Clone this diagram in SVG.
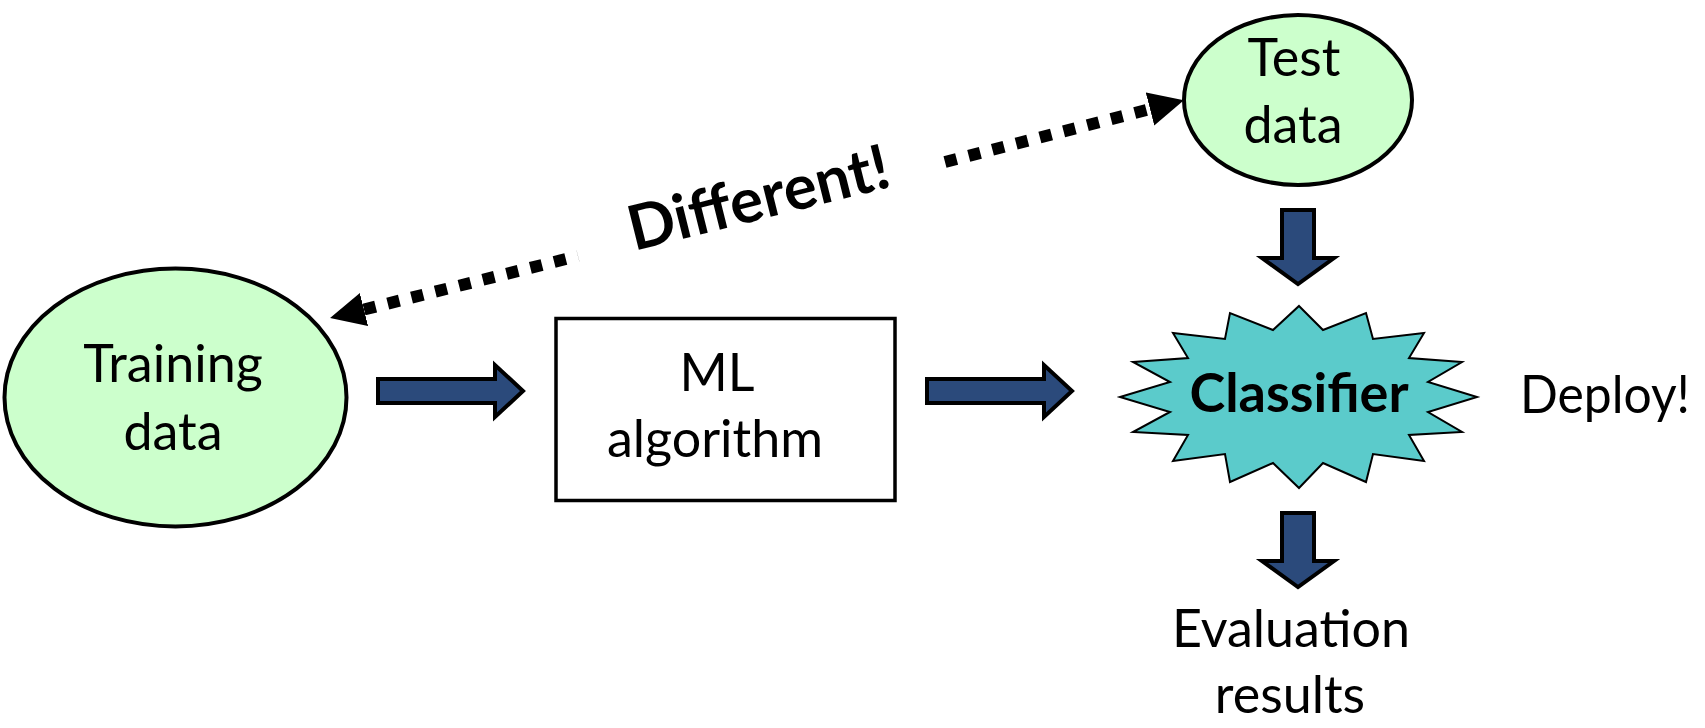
<svg xmlns="http://www.w3.org/2000/svg" width="1705" height="728" viewBox="0 0 1705 728">
  <style>
    .lbl { font-family: Lato, "Liberation Sans", sans-serif; font-size: 52px; fill: #000; text-anchor: middle; }
    .bold { font-weight: bold; }
    .data { fill: #CCFFCC; stroke: #000; stroke-width: 4; }
    .blk { fill: #2B4A7B; stroke: #000; stroke-width: 4; stroke-linejoin: miter; }
    .dots { fill: none; stroke: #000; stroke-width: 12; stroke-dasharray: 12 12.5; }
  </style>
  <defs>
    <marker id="head" markerUnits="userSpaceOnUse" markerWidth="36" markerHeight="36" refX="0" refY="17" orient="auto-start-reverse" viewBox="0 0 36 34">
      <path d="M0,0 L35,17 L0,34 Z" fill="#000"/>
    </marker>
  </defs>
  <rect width="1705" height="728" fill="#fff"/>

  <g id="training">
    <ellipse class="data" cx="175.5" cy="397.5" rx="171" ry="129"/>
    <text class="lbl" x="173" y="382">Training</text>
    <text class="lbl" x="173" y="450">data</text>
  </g>

  <g id="ml">
    <rect x="556" y="318.5" width="339" height="182" fill="#fff" stroke="#000" stroke-width="3.5"/>
    <text class="lbl" x="717" y="391">ML</text>
    <text class="lbl" x="715" y="457">algorithm</text>
  </g>

  <g id="test">
    <ellipse class="data" cx="1298" cy="100" rx="114" ry="85"/>
    <text class="lbl" x="1294" y="76">Test</text>
    <text class="lbl" x="1293" y="143">data</text>
  </g>

  <g id="classifier">
    <polygon fill="#5BCBCB" stroke="#000" stroke-width="2" stroke-linejoin="miter" points="1299,306 1323,330 1366,313 1373,339 1424,333 1409,358 1462,362 1428,382 1477,397 1428,412 1462,432 1409,435 1424,461 1373,454 1366,482 1323,463 1299,488 1273,463 1230,482 1225,454 1173,461 1188,435 1133,432 1170,412 1120,397 1170,382 1133,362 1188,358 1173,333 1225,339 1230,313 1273,330"/>
    <text class="lbl bold" x="1299" y="412" style="font-size:54px">Classifier</text>
  </g>

  <g id="deploy">
    <text class="lbl" x="1520" y="413" textLength="170" lengthAdjust="spacingAndGlyphs" style="text-anchor:start">Deploy!</text>
  </g>

  <g id="evaluation">
    <text class="lbl" x="1291" y="647">Evaluation</text>
    <text class="lbl" x="1290" y="713">results</text>
  </g>

  <g id="different">
    <text class="lbl bold" transform="translate(634,251) rotate(-14)" style="text-anchor:start;font-size:62px">Different!</text>
  </g>

  <g id="connectors">
    <path class="blk" d="M378,379 H495 V365 L523,391 L495,417 V403 H378 Z"/>
    <path class="blk" d="M927,379 H1044 V365 L1072,391 L1044,417 V403 H927 Z"/>
    <path class="blk" d="M1282,210 V258 H1262 L1298,284 L1334,258 H1314 V210 Z"/>
    <path class="blk" d="M1282,513 V561 H1262 L1298,587 L1334,561 H1314 V513 Z"/>
    <path class="dots" d="M364,309.5 L578,256" marker-start="url(#head)"/>
    <path class="dots" d="M945,162 L1150,109" marker-end="url(#head)"/>
  </g>
</svg>
